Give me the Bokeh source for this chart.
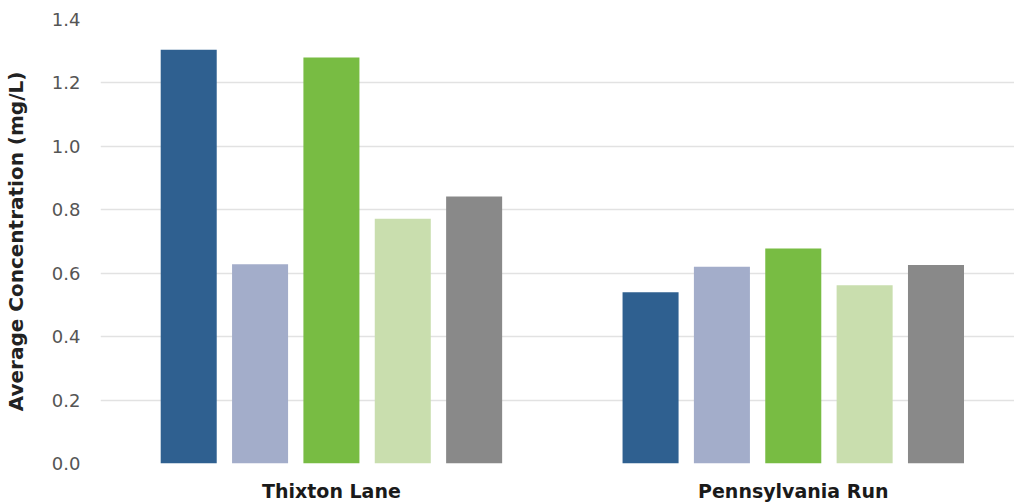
import numpy as np
from bokeh.plotting import figure
from bokeh.models import ColumnDataSource, Range1d, FixedTicker, NumeralTickFormatter
from bokeh.transform import dodge
from bokeh.embed import file_html
from bokeh.resources import INLINE

# ---- data ----
groups = ["Thixton Lane", "Pennsylvania Run"]
series_names = ["Series 1", "Series 2", "Series 3", "Series 4", "Series 5"]
series_1 = [1.305, 0.540]
series_2 = [0.628, 0.620]
series_3 = [1.280, 0.678]
series_4 = [0.772, 0.562]
series_5 = [0.842, 0.626]
y_ticks = [0.0, 0.2, 0.4, 0.6, 0.8, 1.0, 1.2, 1.4]

colors = ["#2f6090", "#a3adca", "#78bc43", "#c9deae", "#898989"]
all_series = [series_1, series_2, series_3, series_4, series_5]

centers = list(np.arange(len(groups)) + 0.5)
data = {"x": centers}
for i, s in enumerate(all_series):
    data[f"s{i}"] = s
source = ColumnDataSource(data)

p = figure(width=1014, height=504, output_backend="svg", toolbar_location=None,
           x_range=Range1d(0.0, 1.979), y_range=Range1d(0, 1.4),
           min_border_left=100, min_border_right=0, min_border_top=19, min_border_bottom=39)

spacing = 0.1545
bar_w = 0.1213
for i, name in enumerate(series_names):
    p.vbar(x=dodge("x", (i - 2) * spacing, range=p.x_range), top=f"s{i}", width=bar_w,
           bottom=0, source=source, color=colors[i], line_color=None)

p.outline_line_color = None
p.background_fill_color = "white"
p.border_fill_color = "white"

# grid
p.xgrid.grid_line_color = None
p.ygrid.grid_line_color = "#e2e2e2"
p.ygrid.grid_line_width = 1.5

# y axis
p.yaxis.ticker = FixedTicker(ticks=y_ticks)
p.yaxis.formatter = NumeralTickFormatter(format="0.0")
p.yaxis.axis_line_color = None
p.yaxis.major_tick_line_color = None
p.yaxis.major_tick_out = 0
p.yaxis.major_tick_in = 0
p.yaxis.minor_tick_line_color = None
p.yaxis.major_label_standoff = 20
p.yaxis.major_label_text_font = "DejaVu Sans"
p.yaxis.major_label_text_font_size = "18px"
p.yaxis.major_label_text_color = "#555555"
p.yaxis.axis_label = "Average Concentration (mg/L)"
p.yaxis.axis_label_text_font = "DejaVu Sans"
p.yaxis.axis_label_text_font_style = "bold"
p.yaxis.axis_label_text_font_size = "20px"
p.yaxis.axis_label_text_color = "#222222"
p.yaxis.axis_label_standoff = 21

# x axis
p.xaxis.ticker = FixedTicker(ticks=centers)
p.xaxis.major_label_overrides = {c: g for c, g in zip(centers, groups)}
p.xaxis.axis_line_color = None
p.xaxis.major_tick_line_color = None
p.xaxis.major_tick_out = 0
p.xaxis.major_tick_in = 0
p.xaxis.minor_tick_line_color = None
p.xaxis.major_label_standoff = 16
p.xaxis.major_label_text_font = "DejaVu Sans"
p.xaxis.major_label_text_font_style = "bold"
p.xaxis.major_label_text_font_size = "19px"
p.xaxis.major_label_text_color = "#1a1a1a"

open("out.html", "w").write(file_html(p, INLINE))
